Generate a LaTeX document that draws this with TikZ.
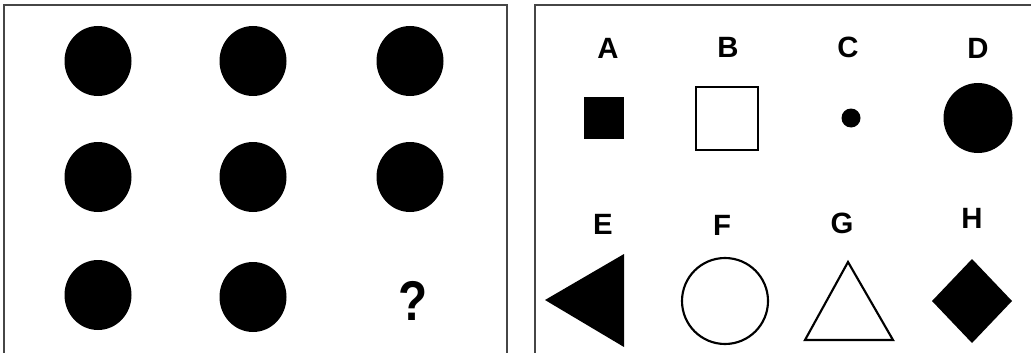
\documentclass[tikz,border=0pt]{standalone}
\usepackage{fontspec}
\setmainfont{Liberation Sans}
\begin{document}
\begin{tikzpicture}[x=0.75pt,y=-0.75pt,
  frame/.style={draw={rgb,255:red,70;green,70;blue,70},line width=1.3pt},
  dot/.style={fill=black},
  outl/.style={draw=black,line width=1.6pt,fill=white},
  lett/.style={font=\bfseries\fontsize{22}{22}\selectfont,inner sep=0pt,anchor=center}]
\useasboundingbox (0,0) rectangle (1031,353);
% frames
\draw[frame] (4,360) -- (4,5) -- (507,5) -- (507,360);
\draw[frame] (535,360) -- (535,5) -- (1040,5);
% grid of dots
\foreach \cx in {98,253,410}{
  \foreach \cy in {61,177}{
    \fill[dot] (\cx,\cy) ellipse [x radius=33.5, y radius=35];
  }
}
\fill[dot] (98,295) ellipse [x radius=33.5, y radius=35];
\fill[dot] (253,297) ellipse [x radius=33.5, y radius=35];
\node[inner sep=0pt,font=\bfseries\fontsize{42}{42}\selectfont,xscale=0.85] (q) at (413,301) {?};
% labels
\node[lett] (lA) at (608,48) {A};
\node[lett] (lB) at (728,47) {B};
\node[lett] (lC) at (848,47) {C};
\node[lett] (lD) at (978,48) {D};
\node[lett] (lE) at (603,224) {E};
\node[lett] (lF) at (722,225) {F};
\node[lett] (lG) at (842,223) {G};
\node[lett] (lH) at (972,218) {H};
% options
\fill[dot] (584,97) rectangle (624,139);
\draw[outl] (696,87) rectangle (758,150);
\fill[dot] (851,118) circle [radius=9.5];
\fill[dot] (978,118) ellipse [x radius=34.5, y radius=35];
\fill[dot] (545,300) -- (624,254) -- (624,347) -- cycle;
\draw[outl] (725,301) circle [radius=43];
\draw[outl,line join=miter] (848,262) -- (893,340) -- (805,340) -- cycle;
\fill[dot] (972,259) -- (1012,301) -- (972,343) -- (932,301) -- cycle;
\end{tikzpicture}
\end{document}
